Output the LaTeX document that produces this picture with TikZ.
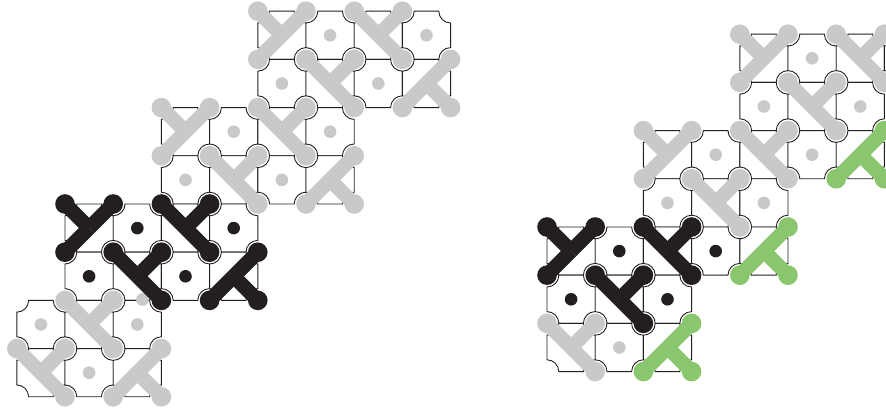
\documentclass[tikz,border=0pt]{standalone}
\definecolor{ink}{RGB}{35,31,32}
\definecolor{gry}{RGB}{200,201,203}
\definecolor{grn}{RGB}{137,198,109}
\newcommand\Sz{48.2}
\newcommand\Rn{11.8}
\newcommand\Rd{9.8}
\newcommand\Rs{6.3}
\tikzset{tileline/.style={draw=ink, line width=0.9pt, fill=white},
  barline/.style={line width=14.5pt}}
% tile whose top-left lattice corner is (c,r), r counted downwards
\newcommand\tile[2]{%
  \pgfmathsetmacro\xa{#1*\Sz}\pgfmathsetmacro\xb{(#1+1)*\Sz}%
  \pgfmathsetmacro\ya{-(#2+1)*\Sz}\pgfmathsetmacro\yb{-(#2)*\Sz}%
  \path[tileline] (\xa+\Rn,\ya) -- (\xb-\Rn,\ya) arc[start angle=180,end angle=90,radius=\Rn pt]
    -- (\xb,\yb-\Rn) arc[start angle=270,end angle=180,radius=\Rn pt]
    -- (\xa+\Rn,\yb) arc[start angle=0,end angle=-90,radius=\Rn pt]
    -- (\xa,\ya+\Rn) arc[start angle=90,end angle=0,radius=\Rn pt] -- cycle;}
\newcommand\tiles[3]{\foreach \cc in {#1,...,#2}{\tile{\cc}{#3}}}
% tripod: colour, c, r, corners (macro holding a list)
\newcommand\tripod[4]{%
  \foreach \dx/\dy in #4 {\draw[#1, barline] ({(#2+.5)*\Sz},{-(#3+.5)*\Sz}) -- ({(#2+\dx)*\Sz},{-(#3+\dy)*\Sz});}
  \foreach \dx/\dy in #4 {\fill[#1] ({(#2+\dx)*\Sz},{-(#3+\dy)*\Sz}) circle[radius=\Rd pt];}}
\newcommand\sdot[3]{\fill[#1] ({(#2+.5)*\Sz},{-(#3+.5)*\Sz}) circle[radius=\Rs pt];}
\newcommand\MBR{0/0,1/0,0/1}
\newcommand\MBL{0/0,1/0,1/1}
\newcommand\MTL{1/0,0/1,1/1}
\begin{document}
\begin{tikzpicture}[x=1pt,y=1pt]
\useasboundingbox (0,0) rectangle (886,409);
\clip (0,0) rectangle (886,409);
% ================= LEFT =================
\begin{scope}[shift={(65,205)}]
  % tiles
  \tiles{4}{7}{-4}\tiles{4}{7}{-3}
  \tiles{2}{5}{-2}\tiles{2}{5}{-1}
  \tiles{0}{3}{0}\tiles{0}{3}{1}
  \tiles{-1}{1}{2}\tiles{-1}{1}{3}
  % top gray
  \tripod{gry}{4}{-4}{\MBR}\tripod{gry}{6}{-4}{\MBL}\tripod{gry}{5}{-3}{\MBL}\tripod{gry}{7}{-3}{\MTL}
  \sdot{gry}{5}{-4}\sdot{gry}{7}{-4}\sdot{gry}{4}{-3}\sdot{gry}{6}{-3}
  % middle gray
  \tripod{gry}{2}{-2}{\MBR}\tripod{gry}{4}{-2}{\MBL}\tripod{gry}{3}{-1}{\MBL}\tripod{gry}{5}{-1}{\MTL}
  \sdot{gry}{3}{-2}\sdot{gry}{5}{-2}\sdot{gry}{2}{-1}\sdot{gry}{4}{-1}
  % bottom gray
  \tripod{gry}{0}{2}{\MBL}\tripod{gry}{-1}{3}{\MBL}\tripod{gry}{1}{3}{\MTL}
  \sdot{gry}{-1}{2}\sdot{gry}{1}{2}\sdot{gry}{0}{3}
  \fill[gry] (77.5,-95.5) circle[radius=\Rs pt];
  % black
  \tripod{ink}{0}{0}{\MBR}\tripod{ink}{2}{0}{\MBL}\tripod{ink}{1}{1}{\MBL}\tripod{ink}{3}{1}{\MTL}
  \sdot{ink}{1}{0}\sdot{ink}{3}{0}\sdot{ink}{0}{1}\sdot{ink}{2}{1}
\end{scope}
% ================= RIGHT =================
\begin{scope}[shift={(547,182)}]
  \tiles{4}{7}{-4}\tiles{4}{6}{-3}
  \tiles{2}{6}{-2}\tiles{2}{4}{-1}
  \tiles{0}{4}{0}\tiles{0}{2}{1}
  \tiles{0}{2}{2}
  % top gray
  \tripod{gry}{4}{-4}{\MBR}\tripod{gry}{6}{-4}{\MBL}\tripod{gry}{5}{-3}{\MBL}
  \sdot{gry}{5}{-4}\sdot{gry}{7}{-4}\sdot{gry}{4}{-3}\sdot{gry}{6}{-3}
  % middle gray
  \tripod{gry}{2}{-2}{\MBR}\tripod{gry}{4}{-2}{\MBL}\tripod{gry}{3}{-1}{\MBL}
  \sdot{gry}{3}{-2}\sdot{gry}{5}{-2}\sdot{gry}{2}{-1}\sdot{gry}{4}{-1}
  % bottom gray
  \tripod{gry}{0}{2}{\MBL}
  \sdot{gry}{1}{2}
  % black
  \tripod{ink}{0}{0}{\MBR}\tripod{ink}{2}{0}{\MBL}\tripod{ink}{1}{1}{\MBL}
  \sdot{ink}{1}{0}\sdot{ink}{3}{0}\sdot{ink}{0}{1}\sdot{ink}{2}{1}
  % green
  \tripod{grn}{6}{-2}{\MTL}\tripod{grn}{4}{0}{\MTL}\tripod{grn}{2}{2}{\MTL}
\end{scope}
\end{tikzpicture}
\end{document}
